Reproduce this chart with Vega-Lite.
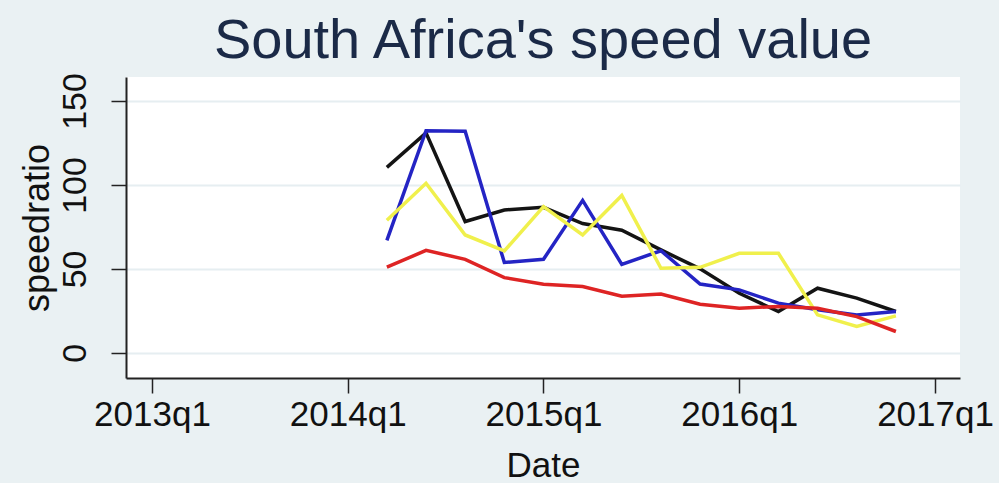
{
  "$schema": "https://vega.github.io/schema/vega-lite/v6.json",
  "width": 834,
  "height": 301,
  "autosize": {"type": "none"},
  "padding": {"left": 126, "top": 77, "right": 39, "bottom": 105},
  "background": "#EAF1F3",
  "config": {
    "view": {"fill": "#FFFFFF", "stroke": null},
    "font": "Liberation Sans",
    "axis": {"labelFont": "Liberation Sans", "titleFont": "Liberation Sans", "labelColor": "#111111", "titleColor": "#111111", "titleFontWeight": "normal", "domainColor": "#222222", "tickColor": "#222222", "domainWidth": 2, "tickWidth": 1.5}
  },
  "title": {
    "text": "South Africa's speed value",
    "fontSize": 56,
    "fontWeight": "normal",
    "font": "Liberation Sans",
    "color": "#1B2A47",
    "anchor": "middle",
    "baseline": "alphabetic",
    "offset": -41
  },
  "data": {
    "values": [
      {"t": 4.8, "s": "black", "v": 110.5}, {"t": 4.8, "s": "blue", "v": 67}, {"t": 4.8, "s": "yellow", "v": 79}, {"t": 4.8, "s": "red", "v": 51},
      {"t": 5.6, "s": "black", "v": 131}, {"t": 5.6, "s": "blue", "v": 132.3}, {"t": 5.6, "s": "yellow", "v": 101}, {"t": 5.6, "s": "red", "v": 61},
      {"t": 6.4, "s": "black", "v": 78.2}, {"t": 6.4, "s": "blue", "v": 132}, {"t": 6.4, "s": "yellow", "v": 70.2}, {"t": 6.4, "s": "red", "v": 55.7},
      {"t": 7.2, "s": "black", "v": 85.1}, {"t": 7.2, "s": "blue", "v": 53.8}, {"t": 7.2, "s": "yellow", "v": 60.7}, {"t": 7.2, "s": "red", "v": 44.8},
      {"t": 8.0, "s": "black", "v": 86.7}, {"t": 8.0, "s": "blue", "v": 55.7}, {"t": 8.0, "s": "yellow", "v": 87.1}, {"t": 8.0, "s": "red", "v": 40.9},
      {"t": 8.8, "s": "black", "v": 77}, {"t": 8.8, "s": "blue", "v": 90.8}, {"t": 8.8, "s": "yellow", "v": 70.2}, {"t": 8.8, "s": "red", "v": 39.5},
      {"t": 9.6, "s": "black", "v": 73}, {"t": 9.6, "s": "blue", "v": 52.7}, {"t": 9.6, "s": "yellow", "v": 93.7}, {"t": 9.6, "s": "red", "v": 33.7},
      {"t": 10.4, "s": "black", "v": 61.3}, {"t": 10.4, "s": "blue", "v": 60.8}, {"t": 10.4, "s": "yellow", "v": 50.4}, {"t": 10.4, "s": "red", "v": 35},
      {"t": 11.2, "s": "black", "v": 50}, {"t": 11.2, "s": "blue", "v": 41}, {"t": 11.2, "s": "yellow", "v": 50.9}, {"t": 11.2, "s": "red", "v": 28.9},
      {"t": 12.0, "s": "black", "v": 35.5}, {"t": 12.0, "s": "blue", "v": 37.5}, {"t": 12.0, "s": "yellow", "v": 59.3}, {"t": 12.0, "s": "red", "v": 26.6},
      {"t": 12.8, "s": "black", "v": 24.6}, {"t": 12.8, "s": "blue", "v": 29.6}, {"t": 12.8, "s": "yellow", "v": 59.3}, {"t": 12.8, "s": "red", "v": 27.6},
      {"t": 13.6, "s": "black", "v": 38.5}, {"t": 13.6, "s": "blue", "v": 25.6}, {"t": 13.6, "s": "yellow", "v": 22.6}, {"t": 13.6, "s": "red", "v": 26.6},
      {"t": 14.4, "s": "black", "v": 32.6}, {"t": 14.4, "s": "blue", "v": 22.6}, {"t": 14.4, "s": "yellow", "v": 15.7}, {"t": 14.4, "s": "red", "v": 21.6},
      {"t": 15.2, "s": "black", "v": 24.6}, {"t": 15.2, "s": "blue", "v": 24.6}, {"t": 15.2, "s": "yellow", "v": 22}, {"t": 15.2, "s": "red", "v": 12.7}
    ]
  },
  "mark": {"type": "line", "strokeWidth": 3.5, "clip": true},
  "encoding": {
    "x": {
      "field": "t",
      "type": "quantitative",
      "title": "Date",
      "scale": {"domain": [-0.53, 16.51], "nice": false, "zero": false},
      "axis": {
        "values": [0, 4, 8, 12, 16],
        "labelExpr": "(2013 + datum.value / 4) + 'q1'",
        "grid": false,
        "labelFontSize": 35,
        "titleFontSize": 35,
        "tickSize": 15,
        "labelPadding": 4,
        "titlePadding": 16,
        "labelFlush": false,
        "labelOverlap": false
      }
    },
    "y": {
      "field": "v",
      "type": "quantitative",
      "title": "speedratio",
      "scale": {"domain": [-15, 164.3], "nice": false, "zero": false},
      "axis": {
        "values": [0, 50, 100, 150],
        "grid": true,
        "gridColor": "#E6EEF1",
        "gridWidth": 2,
        "labelAngle": -90,
        "labelAlign": "center",
        "labelBaseline": "alphabetic",
        "labelFontSize": 34,
        "titleFontSize": 36,
        "titleAngle": -90,
        "titleAlign": "center",
        "titleBaseline": "alphabetic",
        "titleX": -78,
        "titleY": 150.5,
        "tickSize": 15,
        "labelPadding": 26,
        "labelFlush": false,
        "labelOverlap": false
      }
    },
    "color": {
      "field": "s",
      "type": "nominal",
      "legend": null,
      "scale": {"domain": ["yellow", "black", "blue", "red"], "range": ["#F0F04C", "#141414", "#2424C4", "#DE2424"]}
    },
    "order": {"field": "t"}
  }
}
